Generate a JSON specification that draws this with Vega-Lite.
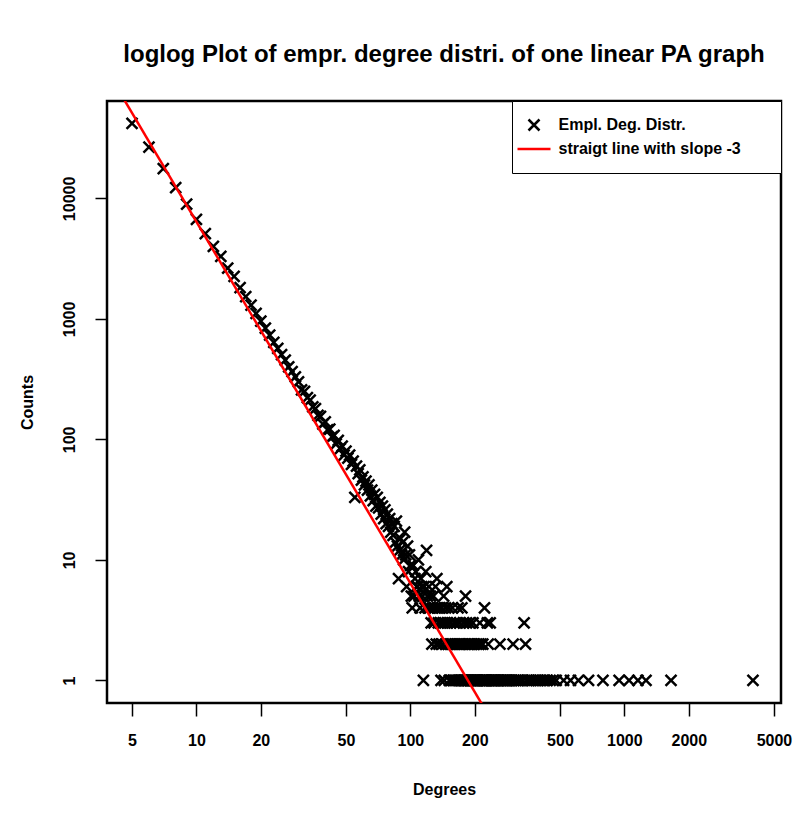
{
  "$schema": "https://vega.github.io/schema/vega-lite/v6.json",
  "width": 674,
  "height": 602,
  "autosize": "none",
  "padding": {"left": 107, "top": 101, "right": 29, "bottom": 114},
  "background": "white",
  "title": {"text": "loglog Plot of empr. degree distri. of one linear PA graph", "fontSize": 24, "fontWeight": "bold", "font": "Liberation Sans", "anchor": "middle", "offset": 34, "color": "black"},
  "config": {"view": {"stroke": "black", "strokeWidth": 2.5}, "font": "Liberation Sans"},
  "datasets": {
    "pts": [
      {"degree":5,"count":42000},{"degree":6,"count":26600},{"degree":7,"count":17700},{"degree":8,"count":12300},{"degree":9,"count":8950},
      {"degree":10,"count":6700},{"degree":11,"count":5100},{"degree":12,"count":4000},{"degree":13,"count":3300},{"degree":14,"count":2640},
      {"degree":15,"count":2250},{"degree":16,"count":1820},{"degree":17,"count":1530},{"degree":18,"count":1300},{"degree":19,"count":1110},
      {"degree":20,"count":960},{"degree":21,"count":840},{"degree":22,"count":735},{"degree":23,"count":640},{"degree":24,"count":570},
      {"degree":25,"count":505},{"degree":26,"count":455},{"degree":27,"count":400},{"degree":28,"count":365},{"degree":29,"count":330},
      {"degree":30,"count":300},{"degree":31,"count":258},{"degree":32,"count":250},{"degree":33,"count":222},{"degree":34,"count":212},
      {"degree":35,"count":186},{"degree":36,"count":180},{"degree":37,"count":158},{"degree":38,"count":155},{"degree":39,"count":134},
      {"degree":40,"count":140},{"degree":41,"count":120},{"degree":42,"count":122},{"degree":43,"count":105},{"degree":44,"count":108},
      {"degree":45,"count":92},{"degree":46,"count":98},{"degree":47,"count":84},{"degree":48,"count":88},{"degree":49,"count":74},
      {"degree":50,"count":80},{"degree":51,"count":70},{"degree":52,"count":74},{"degree":53,"count":62},{"degree":54,"count":66},
      {"degree":55,"count":33},{"degree":56,"count":60},{"degree":57,"count":52},{"degree":58,"count":56},{"degree":59,"count":46},
      {"degree":60,"count":49},{"degree":61,"count":42},{"degree":62,"count":45},{"degree":63,"count":38},{"degree":64,"count":42},
      {"degree":65,"count":34},{"degree":66,"count":38},{"degree":67,"count":31},{"degree":68,"count":35},{"degree":69,"count":28},
      {"degree":70,"count":33},{"degree":71,"count":27},{"degree":72,"count":30},{"degree":73,"count":24},{"degree":74,"count":28},
      {"degree":75,"count":22},{"degree":76,"count":26},{"degree":77,"count":20},{"degree":78,"count":24},{"degree":79,"count":19},
      {"degree":80,"count":22},{"degree":81,"count":17},{"degree":82,"count":20},{"degree":83,"count":16},{"degree":84,"count":19},
      {"degree":85,"count":14},{"degree":86,"count":21},{"degree":87,"count":13},{"degree":88,"count":7},{"degree":89,"count":12},
      {"degree":90,"count":15},{"degree":91,"count":11},{"degree":92,"count":14},{"degree":93,"count":10},{"degree":94,"count":17},
      {"degree":95,"count":11},{"degree":96,"count":6},{"degree":97,"count":13},{"degree":98,"count":8},{"degree":99,"count":11},
      {"degree":100,"count":9},{"degree":101,"count":5},{"degree":102,"count":4},{"degree":103,"count":9},{"degree":104,"count":5},
      {"degree":105,"count":7},{"degree":106,"count":8},{"degree":107,"count":6},{"degree":108,"count":6},{"degree":109,"count":10},
      {"degree":110,"count":5},{"degree":111,"count":4},{"degree":112,"count":7},{"degree":113,"count":6},{"degree":114,"count":5},
      {"degree":115,"count":1},{"degree":116,"count":6},{"degree":117,"count":4},{"degree":118,"count":8},{"degree":119,"count":12},
      {"degree":120,"count":5},{"degree":121,"count":4},{"degree":122,"count":6},{"degree":123,"count":4},{"degree":124,"count":5},
      {"degree":125,"count":3},{"degree":126,"count":2},{"degree":127,"count":4},{"degree":128,"count":5},{"degree":129,"count":3},
      {"degree":130,"count":4},{"degree":131,"count":6},{"degree":132,"count":2},{"degree":133,"count":7},{"degree":134,"count":4},
      {"degree":135,"count":3},{"degree":136,"count":2},{"degree":137,"count":4},{"degree":138,"count":3},{"degree":139,"count":1},
      {"degree":140,"count":4},{"degree":141,"count":2},{"degree":142,"count":3},{"degree":143,"count":5},{"degree":144,"count":1},
      {"degree":145,"count":3},{"degree":146,"count":4},{"degree":147,"count":2},{"degree":148,"count":6},{"degree":149,"count":3},
      {"degree":150,"count":2},{"degree":151,"count":4},{"degree":152,"count":1},{"degree":153,"count":2},{"degree":154,"count":3},
      {"degree":155,"count":1},{"degree":156,"count":2},{"degree":157,"count":4},{"degree":158,"count":1},{"degree":159,"count":2},
      {"degree":160,"count":3},{"degree":161,"count":1},{"degree":162,"count":2},{"degree":163,"count":1},{"degree":164,"count":3},
      {"degree":165,"count":2},{"degree":166,"count":1},{"degree":167,"count":4},{"degree":168,"count":2},{"degree":169,"count":1},
      {"degree":170,"count":3},{"degree":171,"count":2},{"degree":172,"count":1},{"degree":173,"count":1},{"degree":174,"count":4},
      {"degree":175,"count":2},{"degree":176,"count":1},{"degree":177,"count":3},{"degree":178,"count":1},{"degree":179,"count":2},
      {"degree":180,"count":1},{"degree":181,"count":5},{"degree":182,"count":1},{"degree":183,"count":3},{"degree":184,"count":1},
      {"degree":185,"count":2},{"degree":186,"count":1},{"degree":187,"count":1},{"degree":188,"count":2},{"degree":189,"count":3},
      {"degree":190,"count":1},{"degree":191,"count":2},{"degree":192,"count":1},{"degree":193,"count":1},{"degree":194,"count":2},
      {"degree":195,"count":1},{"degree":196,"count":3},{"degree":197,"count":1},{"degree":198,"count":2},{"degree":199,"count":1},
      {"degree":200,"count":1},{"degree":201,"count":2},{"degree":202,"count":1},{"degree":204,"count":1},{"degree":205,"count":2},
      {"degree":206,"count":1},{"degree":207,"count":1},{"degree":209,"count":2},{"degree":210,"count":1},{"degree":211,"count":3},
      {"degree":212,"count":1},{"degree":214,"count":2},{"degree":215,"count":1},{"degree":217,"count":1},{"degree":218,"count":2},
      {"degree":219,"count":1},{"degree":221,"count":1},{"degree":222,"count":4},{"degree":223,"count":1},{"degree":225,"count":1},
      {"degree":226,"count":1},{"degree":228,"count":1},{"degree":229,"count":3},{"degree":231,"count":2},{"degree":232,"count":1},
      {"degree":234,"count":1},{"degree":236,"count":3},{"degree":237,"count":1},{"degree":239,"count":1},{"degree":241,"count":1},
      {"degree":243,"count":1},{"degree":245,"count":1},{"degree":247,"count":1},{"degree":250,"count":1},{"degree":252,"count":1},
      {"degree":255,"count":1},{"degree":256,"count":1},{"degree":259,"count":1},{"degree":262,"count":2},{"degree":264,"count":1},
      {"degree":266,"count":1},{"degree":270,"count":1},{"degree":273,"count":1},{"degree":275,"count":1},{"degree":279,"count":1},
      {"degree":283,"count":1},{"degree":286,"count":1},{"degree":290,"count":1},{"degree":294,"count":1},{"degree":298,"count":1},
      {"degree":302,"count":2},{"degree":305,"count":1},{"degree":310,"count":1},{"degree":312,"count":1},{"degree":318,"count":1},
      {"degree":323,"count":1},{"degree":330,"count":1},{"degree":336,"count":1},{"degree":340,"count":3},{"degree":345,"count":2},
      {"degree":350,"count":1},{"degree":357,"count":1},{"degree":365,"count":1},{"degree":372,"count":1},{"degree":380,"count":1},
      {"degree":388,"count":1},{"degree":395,"count":1},{"degree":402,"count":1},{"degree":415,"count":1},{"degree":425,"count":1},
      {"degree":436,"count":1},{"degree":450,"count":1},{"degree":464,"count":1},{"degree":480,"count":1},{"degree":520,"count":1},
      {"degree":560,"count":1},{"degree":610,"count":1},{"degree":680,"count":1},{"degree":794,"count":1},{"degree":945,"count":1},
      {"degree":1052,"count":1},{"degree":1157,"count":1},{"degree":1262,"count":1},{"degree":1652,"count":1},{"degree":3990,"count":1}
    ],
    "fit": [
      {"degree": 3.82, "fit": 114800},
      {"degree": 5400, "fit": 0.0000407}
    ]
  },
  "layer": [
    {
      "data": {"name": "pts"},
      "mark": {"type": "point", "filled": false, "strokeWidth": 2.5, "opacity": 1, "size": 121, "clip": true},
      "encoding": {
        "x": {
          "field": "degree", "type": "quantitative",
          "scale": {"type": "log", "domain": [3.82, 5395], "nice": false},
          "axis": {"values": [5,10,20,50,100,200,500,1000,2000,5000], "format": "d", "title": "Degrees", "domain": false, "grid": false,
                   "tickSize": 13, "tickColor": "black", "tickWidth": 1.5, "labelFontSize": 16, "labelFontWeight": "bold", "labelColor": "black", "labelPadding": 16,
                   "labelFlush": false, "labelOverlap": false, "titleFontSize": 16, "titleFontWeight": "bold", "titleColor": "black", "titlePadding": 33}
        },
        "y": {
          "field": "count", "type": "quantitative",
          "scale": {"type": "log", "domain": [0.65, 64300], "nice": false},
          "axis": {"values": [1,10,100,1000,10000], "format": "d", "title": "Counts", "domain": false, "grid": false,
                   "tickSize": 12, "tickColor": "black", "tickWidth": 1.5, "labelFontSize": 16, "labelFontWeight": "bold", "labelColor": "black", "labelPadding": 18,
                   "labelAngle": 270, "labelAlign": "center", "labelBaseline": "bottom",
                   "labelFlush": false, "labelOverlap": false, "titleFontSize": 16, "titleFontWeight": "bold", "titleColor": "black", "titlePadding": 26}
        },
        "color": {
          "datum": "Empl. Deg. Distr.", "type": "nominal",
          "scale": {"domain": ["Empl. Deg. Distr.", "straigt line with slope -3"], "range": ["black", "#ff0000"]},
          "legend": {"title": " ", "titleOrient": "right", "titlePadding": 24, "titleFontSize": 11, "orient": "top-right", "offset": 0, "strokeColor": "black", "fillColor": "white", "padding": 16,
                     "labelFontSize": 16, "labelFontWeight": "bold", "labelColor": "black", "labelLimit": 500, "symbolSize": 121, "symbolStrokeWidth": 2.5, "symbolOffset": -2, "labelOffset": 16.5, "rowPadding": 5}
        },
        "shape": {
          "datum": "Empl. Deg. Distr.", "type": "nominal",
          "scale": {"domain": ["Empl. Deg. Distr.", "straigt line with slope -3"], "range": ["M-1,-1L1,1M-1,1L1,-1", "M-3,0H3"]},
          "legend": {"title": " ", "titleOrient": "right", "titlePadding": 24, "titleFontSize": 11, "orient": "top-right", "offset": 0, "strokeColor": "black", "fillColor": "white", "padding": 16,
                     "labelFontSize": 16, "labelFontWeight": "bold", "labelColor": "black", "labelLimit": 500, "symbolSize": 121, "symbolStrokeWidth": 2.5, "symbolOffset": -2, "labelOffset": 16.5, "rowPadding": 5}
        }
      }
    },
    {
      "data": {"name": "fit"},
      "mark": {"type": "line", "strokeWidth": 2.5, "clip": true},
      "encoding": {
        "x": {"field": "degree", "type": "quantitative"},
        "y": {"field": "fit", "type": "quantitative"},
        "color": {"datum": "straigt line with slope -3", "type": "nominal"}
      }
    }
  ]
}
